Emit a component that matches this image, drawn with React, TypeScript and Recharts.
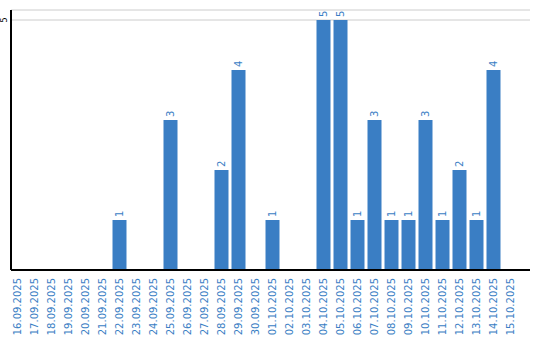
import React from "react";
import { BarChart, Bar, XAxis, YAxis, CartesianGrid, LabelList } from "recharts";

const dates = [
  "16.09.2025", "17.09.2025", "18.09.2025", "19.09.2025", "20.09.2025",
  "21.09.2025", "22.09.2025", "23.09.2025", "24.09.2025", "25.09.2025",
  "26.09.2025", "27.09.2025", "28.09.2025", "29.09.2025", "30.09.2025",
  "01.10.2025", "02.10.2025", "03.10.2025", "04.10.2025", "05.10.2025",
  "06.10.2025", "07.10.2025", "08.10.2025", "09.10.2025", "10.10.2025",
  "11.10.2025", "12.10.2025", "13.10.2025", "14.10.2025", "15.10.2025",
];
const counts = [
  0, 0, 0, 0, 0, 0, 1, 0, 0, 3,
  0, 0, 2, 4, 0, 1, 0, 0, 5, 5,
  1, 3, 1, 1, 3, 1, 2, 1, 4, 0,
];
const yTicks = [5];

const BLUE = "#3a7ec4";
const FONT = "'DejaVu Sans', Verdana, sans-serif";

const data = dates.map((d, i) => ({ date: d, count: counts[i] }));

const XTick = ({ x, payload }: any) => (
  <text
    transform={`translate(${x},278) rotate(-90)`}
    textAnchor="end"
    dy="0.35em"
    fill={BLUE}
    fontSize={10}
    fontFamily={FONT}
  >
    {payload.value}
  </text>
);

const YTick = ({ y, payload }: any) => (
  <text
    transform={`translate(4,${y}) rotate(-90)`}
    textAnchor="middle"
    dy="0.35em"
    fill="#000"
    fontSize={8}
    fontFamily={FONT}
  >
    {payload.value}
  </text>
);

const ValueLabel = ({ x, y, width, value }: any) => {
  if (!value) return null;
  return (
    <text
      transform={`translate(${x + width / 2},${y - 3}) rotate(-90)`}
      textAnchor="start"
      dy="0.35em"
      fill={BLUE}
      fontSize={10}
      fontFamily={FONT}
    >
      {value}
    </text>
  );
};

export default function App() {
  return (
    <div style={{ position: "absolute", left: 0, top: 0, background: "#fff" }}>
      <BarChart
        width={540}
        height={340}
        data={data}
        margin={{ top: 10, right: 10, bottom: 0, left: 0 }}
      >
        <CartesianGrid vertical={false} stroke="#cccccc" />
        <XAxis
          dataKey="date"
          interval={0}
          height={70}
          padding={{ left: -2.5, right: 11.5 }}
          axisLine={{ stroke: "#000", strokeWidth: 2 }}
          tickLine={false}
          tick={<XTick />}
        />
        <YAxis
          width={11}
          domain={[0, 5]}
          ticks={yTicks}
          padding={{ top: 10, bottom: 0 }}
          axisLine={{ stroke: "#000", strokeWidth: 2 }}
          tickLine={false}
          tick={<YTick />}
        />
        <Bar dataKey="count" fill={BLUE} barSize={14} isAnimationActive={false}>
          <LabelList dataKey="count" content={<ValueLabel />} />
        </Bar>
      </BarChart>
    </div>
  );
}
